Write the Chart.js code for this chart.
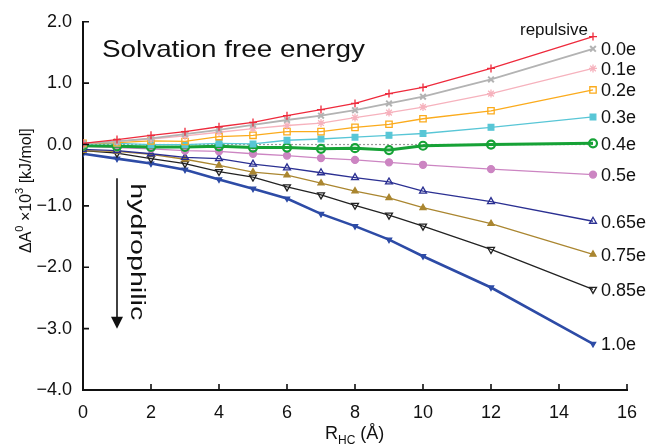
<!DOCTYPE html>
<html>
<head>
<meta charset="utf-8">
<script src="https://cdn.jsdelivr.net/npm/chart.js@4.4.1/dist/chart.umd.min.js"></script>
<style>
html,body{margin:0;padding:0;background:#fff}
#wrap{width:650px;height:444px}
</style>
</head>
<body>
<div id="wrap"><canvas id="chart"></canvas></div>
<script>
// R_HC values (Angstrom)
const rValues = [0, 1, 2, 3, 4, 5, 6, 7, 8, 9, 10, 12, 15];

// dA x10^3 kJ/mol, one array per charge
const repulsive = [0.02, 0.08, 0.15, 0.21, 0.29, 0.36, 0.47, 0.57, 0.67, 0.83, 0.93, 1.24, 1.76];
const q00  = [0.02, 0.05, 0.10, 0.17, 0.24, 0.32, 0.40, 0.47, 0.56, 0.67, 0.78, 1.06, 1.56];
const q01  = [0.02, 0.05, 0.09, 0.14, 0.20, 0.26, 0.31, 0.35, 0.44, 0.52, 0.61, 0.83, 1.24];
const q02  = [0.02, 0.03, 0.06, 0.05, 0.13, 0.15, 0.21, 0.21, 0.28, 0.33, 0.42, 0.55, 0.89];
const q03  = [0.01, 0.02, 0.00, 0.00, 0.02, 0.01, 0.07, 0.09, 0.12, 0.15, 0.18, 0.28, 0.45];
const q04  = [-0.02, -0.03, -0.04, -0.04, -0.03, -0.05, -0.05, -0.07, -0.06, -0.09, -0.02, 0.00, 0.02];
const q05  = [-0.03, -0.05, -0.07, -0.10, -0.11, -0.15, -0.18, -0.22, -0.25, -0.29, -0.33, -0.40, -0.49];
const q065 = [-0.08, -0.10, -0.15, -0.21, -0.23, -0.32, -0.38, -0.46, -0.54, -0.61, -0.76, -0.93, -1.25];
const q075 = [-0.10, -0.11, -0.16, -0.24, -0.34, -0.45, -0.50, -0.63, -0.76, -0.87, -1.03, -1.29, -1.79];
const q085 = [-0.10, -0.14, -0.23, -0.31, -0.44, -0.53, -0.69, -0.82, -0.99, -1.15, -1.33, -1.71, -2.36];
const q10  = [-0.15, -0.23, -0.31, -0.41, -0.57, -0.72, -0.88, -1.13, -1.33, -1.55, -1.82, -2.33, -3.25];

const seriesNames = ["repulsive", "0.0e", "0.1e", "0.2e", "0.3e", "0.4e", "0.5e", "0.65e", "0.75e", "0.85e", "1.0e"];
const seriesData = [repulsive, q00, q01, q02, q03, q04, q05, q065, q075, q085, q10];

// dotted reference line at zero
const zeroLineX = [0, 15];
const zeroLineY = [0, 0];

const xMin = 0, xMax = 16, xStep = 2;
const yMin = -4, yMax = 2, yStep = 1;

const FONT = "'Liberation Sans', Arial, Helvetica, sans-serif";

// look of each series
const styles = [
  {color: "#ee2a3c", point: "cross",    radius: 4,   fill: false, width: 1.3},
  {color: "#b3b3b3", point: "crossRot", radius: 4,   fill: false, width: 1.8, pw: 2},
  {color: "#f6b2bd", point: "star",     radius: 4,   fill: false, width: 1.3},
  {color: "#fbab1c", point: "rect",     radius: 4.5, fill: false, width: 1.3},
  {color: "#58c6d6", point: "rect",     radius: 4,   fill: true,  width: 1.3},
  {color: "#16a236", point: "circle",   radius: 4,   fill: false, width: 3, pw: 2.2},
  {color: "#cc85c2", point: "circle",   radius: 3.5, fill: true,  width: 1.3},
  {color: "#2b3092", point: "triangle", radius: 4,   fill: false, width: 1.3},
  {color: "#aa8630", point: "triangle", radius: 3.5, fill: true,  width: 1.3},
  {color: "#222222", point: "triangle", radius: 4,   fill: false, width: 1.3, rot: 180},
  {color: "#2d4ba6", point: "triangle", radius: 3,   fill: true,  width: 2.6, rot: 180}
];

const datasets = seriesData.map((vals, i) => {
  const s = styles[i];
  return {
    label: seriesNames[i],
    data: vals.map((v, j) => ({x: rValues[j], y: v})),
    borderColor: s.color,
    backgroundColor: s.fill ? s.color : "#ffffff",
    borderWidth: s.width,
    pointStyle: s.point,
    pointRadius: s.radius,
    pointBorderWidth: s.pw || 1.3,
    pointBorderColor: s.color,
    pointBackgroundColor: s.fill ? s.color : "rgba(255,255,255,0)",
    pointRotation: s.rot || 0,
    tension: 0,
    order: 0
  };
});

datasets.push({
  label: "zero",
  data: zeroLineX.map((x, j) => ({x: x, y: zeroLineY[j]})),
  borderColor: "#9a9a9a",
  borderDash: [2, 2],
  borderWidth: 1.2,
  pointRadius: 0,
  order: 1
});

// text drawn along a direction, stretched to a given length
function stretchText(ctx, text, x, y, angle, size, length) {
  ctx.save();
  ctx.translate(x, y);
  ctx.rotate(angle);
  ctx.font = size + "px " + FONT;
  const w = ctx.measureText(text).width;
  ctx.scale(length / w, 1);
  ctx.textAlign = "left";
  ctx.textBaseline = "alphabetic";
  ctx.fillText(text, 0, 0);
  ctx.restore();
}

const decorations = {
  id: "decorations",
  afterDatasetsDraw(chart) {
    const {ctx, chartArea: a, scales: {x, y}} = chart;
    ctx.save();
    ctx.fillStyle = "#111";
    ctx.strokeStyle = "#111";

    // inward tick marks
    ctx.lineWidth = 1.6;
    ctx.beginPath();
    x.ticks.forEach(t => {
      if (t.value === xMin) return;
      const px = x.getPixelForValue(t.value);
      ctx.moveTo(px, a.bottom);
      ctx.lineTo(px, a.bottom - 6);
    });
    y.ticks.forEach(t => {
      if (t.value === yMin) return;
      const py = y.getPixelForValue(t.value);
      ctx.moveTo(a.left, py);
      ctx.lineTo(a.left + 6, py);
    });
    ctx.stroke();

    // series labels at line ends
    const lastX = rValues[rValues.length - 1];
    const ex = x.getPixelForValue(lastX);
    seriesData.forEach((vals, i) => {
      const ey = y.getPixelForValue(vals[vals.length - 1]);
      if (i === 0) {
        ctx.font = "17px " + FONT;
        ctx.textAlign = "right";
        ctx.fillText(seriesNames[i], ex - 5, ey - 2);
      } else {
        ctx.font = "18px " + FONT;
        ctx.textAlign = "left";
        ctx.fillText(seriesNames[i], ex + 8, ey + 6.5);
      }
    });

    // title
    stretchText(ctx, "Solvation free energy", 102, 57, 0, 24, 263);

    // hydrophilic arrow
    const ax = x.getPixelForValue(1);
    const aTop = y.getPixelForValue(-0.55);
    const aTip = y.getPixelForValue(-3.0);
    ctx.lineWidth = 1.6;
    ctx.beginPath();
    ctx.moveTo(ax, aTop);
    ctx.lineTo(ax, aTip - 8);
    ctx.stroke();
    ctx.beginPath();
    ctx.moveTo(ax - 6, aTip - 12);
    ctx.lineTo(ax + 6, aTip - 12);
    ctx.lineTo(ax, aTip);
    ctx.closePath();
    ctx.fill();
    stretchText(ctx, "hydrophilic", ax + 14, aTop + 5, Math.PI / 2, 20, 137);

    // y axis title with superscripts
    ctx.save();
    ctx.translate(31, 253);
    ctx.rotate(-Math.PI / 2);
    ctx.textAlign = "left";
    let cx = 0;
    const parts = [["ΔA", 16, 0], ["0", 11, -8], [" ×10", 16, 0], ["3", 11, -8], [" [kJ/mol]", 16, 0]];
    parts.forEach(p => {
      ctx.font = p[1] + "px " + FONT;
      ctx.fillText(p[0], cx, p[2]);
      cx += ctx.measureText(p[0]).width;
    });
    ctx.restore();

    // x axis title with subscript
    ctx.textAlign = "left";
    let tx = 325;
    [["R", 18, 0], ["HC", 12, 5], [" (Å)", 18, 0]].forEach(p => {
      ctx.font = p[1] + "px " + FONT;
      ctx.fillText(p[0], tx, 439 + p[2]);
      tx += ctx.measureText(p[0]).width;
    });

    ctx.restore();
  }
};

new Chart(document.getElementById("chart"), {
  type: "line",
  data: {datasets: datasets},
  options: {
    responsive: true,
    maintainAspectRatio: false,
    animation: false,
    layout: {padding: {left: 0, top: 21, right: 23, bottom: 0}},
    plugins: {legend: {display: false}, tooltip: {enabled: false}},
    scales: {
      x: {
        type: "linear",
        min: xMin, max: xMax,
        ticks: {stepSize: xStep, color: "#111", padding: 12, font: {family: FONT, size: 18}},
        grid: {display: false, drawTicks: false},
        border: {display: true, color: "#111", width: 2},
        afterFit(scale) { scale.height = 54; }
      },
      y: {
        type: "linear",
        min: yMin, max: yMax,
        ticks: {
          stepSize: yStep, color: "#111", padding: 11, font: {family: FONT, size: 18},
          callback: v => (v < 0 ? "\u2212" : "") + Math.abs(v).toFixed(1)
        },
        grid: {display: false, drawTicks: false},
        border: {display: true, color: "#111", width: 2},
        afterFit(scale) { scale.width = 83; }
      }
    }
  },
  plugins: [decorations]
});
</script>
</body>
</html>
